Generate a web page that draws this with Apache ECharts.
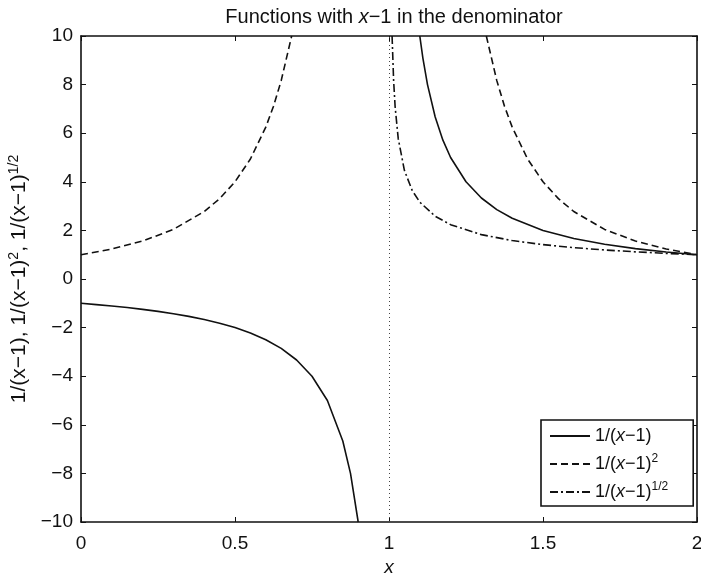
<!DOCTYPE html>
<html lang="en">
<head>
<meta charset="UTF-8">
<title>Functions with x-1 in the denominator</title>
<script src="https://cdnjs.cloudflare.com/ajax/libs/echarts/6.0.0/echarts.min.js"></script>
<style>html, body { margin: 0; padding: 0; background: #fff; }</style>
</head>
<body>
<div id="main" style="width:701px;height:573px;"></div>
<script>
// values, one pair of arrays per branch
var invLeftX = [0, 0.05, 0.1, 0.15, 0.2, 0.25, 0.3, 0.35, 0.4, 0.45, 0.5, 0.55, 0.6, 0.65, 0.7, 0.75, 0.8, 0.85, 0.875, 0.9];
var invLeftY = [-1, -1.053, -1.111, -1.176, -1.25, -1.333, -1.429, -1.538, -1.667, -1.818, -2, -2.222, -2.5, -2.857, -3.333, -4, -5, -6.667, -8, -10];
var invRightX = [1.1, 1.11, 1.125, 1.15, 1.175, 1.2, 1.25, 1.3, 1.35, 1.4, 1.5, 1.6, 1.7, 1.8, 1.9, 2];
var invRightY = [10, 9.09, 8, 6.667, 5.714, 5, 4, 3.333, 2.857, 2.5, 2, 1.667, 1.429, 1.25, 1.111, 1];

var sqLeftX = [0, 0.1, 0.2, 0.3, 0.4, 0.45, 0.5, 0.55, 0.6, 0.625, 0.65, 0.684];
var sqLeftY = [1, 1.235, 1.563, 2.041, 2.778, 3.306, 4, 4.938, 6.25, 7.111, 8.163, 10];
var sqRightX = [1.316, 1.35, 1.375, 1.4, 1.45, 1.5, 1.55, 1.6, 1.7, 1.8, 1.9, 2];
var sqRightY = [10, 8.163, 7.111, 6.25, 4.938, 4, 3.306, 2.778, 2.041, 1.563, 1.235, 1];

var rootX = [1.01, 1.015, 1.02, 1.03, 1.05, 1.075, 1.1, 1.15, 1.2, 1.3, 1.4, 1.5, 1.6, 1.7, 1.8, 1.9, 2];
var rootY = [10, 8.165, 7.071, 5.774, 4.472, 3.651, 3.162, 2.582, 2.236, 1.826, 1.581, 1.414, 1.291, 1.195, 1.118, 1.054, 1];

var xTicks = { min: 0, max: 2, interval: 0.5 };
var yTicks = { min: -10, max: 10, interval: 2 };
var names = ['inv', 'sq', 'root'];

var font = "'Liberation Sans', Arial, sans-serif";

function zip(xs, ys) {
    return xs.map(function (x, i) { return [x, ys[i]]; });
}

function curve(name, xs, ys, dash) {
    return {
        name: name,
        type: 'line',
        data: zip(xs, ys),
        symbol: 'none',
        showSymbol: false,
        clip: true,
        lineStyle: { color: '#111', width: 1.6, type: dash },
        itemStyle: { color: '#111' }
    };
}

function axisCommon(extra) {
    var a = {
        type: 'value',
        splitLine: { show: false },
        axisLine: { show: true, onZero: false, lineStyle: { color: '#111', width: 1.6 } },
        axisTick: { show: true, inside: true, length: 5, lineStyle: { color: '#111', width: 1 } },
        axisLabel: { show: false }
    };
    return Object.assign(a, extra);
}

var chart = echarts.init(document.getElementById('main'));

var legendText = {
    inv: '{n|1/(}{i|x}{n|\u22121)}',
    sq: '{n|1/(}{i|x}{n|\u22121)}{s|2}',
    root: '{n|1/(}{i|x}{n|\u22121)}{s|1/2}'
};

var series = [
    curve('inv', invLeftX, invLeftY, 'solid'),
    curve('sq', sqLeftX, sqLeftY, [7, 4]),
    curve('root', rootX, rootY, [8, 3, 2, 3]),
    curve('inv', invRightX, invRightY, 'solid'),
    curve('sq', sqRightX, sqRightY, [7, 4])
];
series[0].markLine = {
    silent: true,
    symbol: ['none', 'none'],
    label: { show: false },
    lineStyle: { color: '#444', width: 1, type: [1, 3] },
    data: [{ xAxis: 1 }]
};

chart.setOption({
    animation: false,
    textStyle: { fontFamily: font },
    title: {
        text: '{n|Functions with }{i|x}{n|\u22121 in the denominator}',
        left: 389,
        textAlign: 'center',
        top: 2,
        textStyle: {
            rich: {
                n: { fontSize: 20, fontFamily: font, fontWeight: 'normal', color: '#111' },
                i: { fontSize: 20, fontFamily: font, fontWeight: 'normal', fontStyle: 'italic', color: '#111' }
            }
        }
    },
    grid: { left: 81, right: 4, top: 36, bottom: 51, outerBoundsMode: 'none' },
    legend: {
        data: names,
        orient: 'vertical',
        left: 541,
        top: 420,
        padding: [7, 25, 5, 8],
        itemGap: 8,
        itemWidth: 40,
        itemHeight: 20,
        backgroundColor: '#fff',
        borderColor: '#111',
        borderWidth: 1.6,
        borderRadius: 0,
        itemStyle: { opacity: 0 },
        formatter: function (n) { return legendText[n]; },
        textStyle: {
            rich: {
                n: { fontSize: 18, fontFamily: font, color: '#111' },
                i: { fontSize: 18, fontFamily: font, fontStyle: 'italic', color: '#111' },
                s: { fontSize: 12, fontFamily: font, color: '#111', padding: [0, 0, 10, 0] }
            }
        }
    },
    xAxis: [
        axisCommon({
            min: xTicks.min, max: xTicks.max, interval: xTicks.interval,
            position: 'bottom',
            name: 'x',
            nameLocation: 'middle',
            nameGap: 31,
            nameTextStyle: { fontSize: 19, fontStyle: 'italic', color: '#111', fontFamily: font },
            axisLabel: { show: true, color: '#111', fontSize: 19, margin: 12, fontFamily: font }
        }),
        axisCommon({ min: xTicks.min, max: xTicks.max, interval: xTicks.interval, position: 'top' })
    ],
    yAxis: [
        axisCommon({
            min: yTicks.min, max: yTicks.max, interval: yTicks.interval,
            position: 'left',
            name: '{n|1/(x\u22121), 1/(x\u22121)}{s|2}{n|, 1/(x\u22121)}{s|1/2}',
            nameLocation: 'middle',
            nameGap: 44,
            nameTextStyle: {
                color: '#111',
                rich: {
                    n: { fontSize: 21, fontFamily: font, color: '#111' },
                    s: { fontSize: 14, fontFamily: font, color: '#111', padding: [0, 0, 10, 0] }
                }
            },
            axisLabel: {
                show: true, color: '#111', fontSize: 19, margin: 8, fontFamily: font,
                formatter: function (v) { return String(v).replace('-', '\u2212'); }
            }
        }),
        axisCommon({ min: yTicks.min, max: yTicks.max, interval: yTicks.interval, position: 'right' })
    ],
    series: series
});
</script>
</body>
</html>
